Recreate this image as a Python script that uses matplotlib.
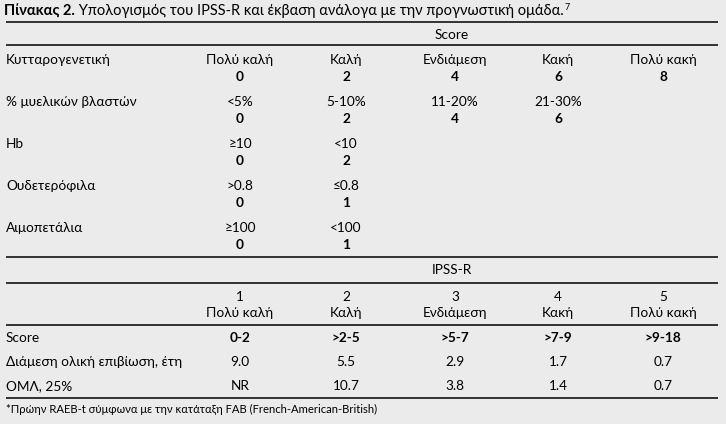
import matplotlib.pyplot as plt

plt.rcParams['font.family'] = ['Lato', 'DejaVu Sans']

title_bold = "Πίνακας 2."
title_rest = " Υπολογισμός του IPSS-R και έκβαση ανάλογα με την προγνωστική ομάδα."
title_ref = "7"

score_cats = ["Πολύ καλή", "Καλή", "Ενδιάμεση", "Κακή", "Πολύ κακή"]
score_pts = ["0", "2", "4", "6", "8"]

blast_vals = ["<5%", "5-10%", "11-20%", "21-30%"]
blast_pts = ["0", "2", "4", "6"]
hb_vals = ["≥10", "<10"]
hb_pts = ["0", "2"]
neut_vals = [">0.8", "≤0.8"]
neut_pts = ["0", "1"]
plt_vals = ["≥100", "<100"]
plt_pts = ["0", "1"]

row_labels = ["Κυτταρογενετική", "% μυελικών βλαστών", "Hb", "Ουδετερόφιλα", "Αιμοπετάλια"]

risk_nums = ["1", "2", "3", "4", "5"]
risk_names = ["Πολύ καλή", "Καλή", "Ενδιάμεση", "Κακή", "Πολύ κακή"]
risk_scores = ["0-2", ">2-5", ">5-7", ">7-9", ">9-18"]
risk_os = ["9.0", "5.5", "2.9", "1.7", "0.7"]
risk_aml = ["NR", "10.7", "3.8", "1.4", "0.7"]

footnote = "*Πρώην RAEB-t σύμφωνα με την κατάταξη FAB (French-American-British)"

bg = '#ebebeb'
fs = 9.85
col_x = [240, 346, 455, 558, 663]

fig = plt.figure(figsize=(7.26, 4.24), dpi=100, facecolor=bg)
ax = fig.add_axes([0, 0, 1, 1])
ax.set_facecolor(bg)
ax.set_xlim(0, 726)
ax.set_ylim(424, 0)
ax.axis('off')

# title
t1 = ax.text(4, 11, title_bold, fontsize=10.5, fontweight='bold', va='center', ha='left')
fig.canvas.draw()
bb = t1.get_window_extent()
t2 = fig.text(bb.x1 / 726, 1 - 11 / 424, title_rest, fontsize=10.5, va='center', ha='left')
fig.canvas.draw()
bb2 = t2.get_window_extent()
fig.text(bb2.x1 / 726 + 0.001, 1 - 7 / 424, title_ref, fontsize=6.5, va='center', ha='left')

for y in [22, 45, 257, 283, 325, 398]:
    ax.hlines(y, 6, 718, color='black', linewidth=1.1)

ax.text(452, 35, "Score", fontsize=fs, ha='center', va='center')
ax.text(452, 270, "IPSS-R", fontsize=fs, ha='center', va='center')

# upper table
rows = [(score_cats, score_pts), (blast_vals, blast_pts), (hb_vals, hb_pts),
        (neut_vals, neut_pts), (plt_vals, plt_pts)]
for i, (lab, (vals, pts)) in enumerate(zip(row_labels, rows)):
    y = 60 + i * 42
    ax.text(6, y, lab, fontsize=fs, ha='left', va='center')
    for j, v in enumerate(vals):
        ax.text(col_x[j], y, v, fontsize=fs, ha='center', va='center')
    for j, p in enumerate(pts):
        ax.text(col_x[j], y + 17, p, fontsize=fs, ha='center', va='center', fontweight='bold')

# lower table
for j in range(5):
    ax.text(col_x[j], 297, risk_nums[j], fontsize=fs, ha='center', va='center')
    ax.text(col_x[j], 313, risk_names[j], fontsize=fs, ha='center', va='center')
    ax.text(col_x[j], 338, risk_scores[j], fontsize=fs, ha='center', va='center', fontweight='bold')
    ax.text(col_x[j], 362, risk_os[j], fontsize=fs, ha='center', va='center')
    ax.text(col_x[j], 386, risk_aml[j], fontsize=fs, ha='center', va='center')

ax.text(6, 338, "Score", fontsize=fs, ha='left', va='center')
ax.text(6, 362, "Διάμεση ολική επιβίωση, έτη", fontsize=fs, ha='left', va='center')
ax.text(6, 386, "ΟΜΛ, 25%", fontsize=fs, ha='left', va='center')

ax.text(6, 409, footnote, fontsize=8.1, ha='left', va='center')

fig.savefig('out.png', dpi=100, facecolor=bg)
